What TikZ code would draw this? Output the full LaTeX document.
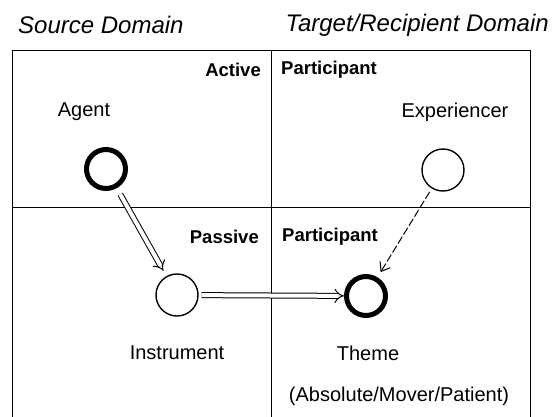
\documentclass[tikz,border=0pt]{standalone}
\usepackage{fontspec}
\setmainfont{Liberation Sans}
\usetikzlibrary{arrows.meta}
\begin{document}
\begin{tikzpicture}[x=1pt,y=-1pt,
  frame/.style={line width=1pt},
  title/.style={font=\fontsize{24}{28}\selectfont\itshape, inner sep=0pt},
  lbl/.style={font=\fontsize{20}{23}\selectfont, inner sep=0pt},
  part/.style={font=\fontsize{18.5}{22}\selectfont\bfseries, inner sep=0pt},
  thin/.style={circle, draw, line width=1.4pt, minimum size=42pt, inner sep=0pt},
  thick/.style={circle, draw, line width=5pt, minimum size=39pt, inner sep=0pt},
  dbl/.style={double, double distance=4pt, line width=1pt, -{Implies[length=8pt]}},
  dsh/.style={line width=1pt, dash pattern=on 8pt off 2.5pt, -{Straight Barb[length=8pt,width=12pt]}}
]
\useasboundingbox (0,0) rectangle (552,416);
% titles
\node[title, anchor=west] (srcd) at (18,25) {Source Domain};
\node[title, anchor=east] (tgtd) at (549,25) {Target/Recipient Domain};
% frame
\coordinate (tl) at (12,50);
\coordinate (tr) at (530,50);
\coordinate (bl) at (12,417);
\coordinate (br) at (530,417);
\coordinate (vt) at (271,50);
\coordinate (vb) at (271,417);
\coordinate (hl) at (12,207);
\coordinate (hr) at (530,207);
\draw[frame] (bl) -- (tl) -- (tr) -- (br);
\draw[frame] (vt) -- (vb);
\draw[frame] (hl) -- (hr);
% participant labels
\node[part, anchor=east] (act) at (261,70) {Active};
\node[part, anchor=west] (p1) at (281,70) {Participant};
\node[part, anchor=east] (pas) at (259,237) {Passive};
\node[part, anchor=west] (p2) at (282,237) {Participant};
% role labels
\node[lbl] (agentl) at (84,112) {Agent};
\node[lbl] (expl) at (455,112) {Experiencer};
\node[lbl] (instl) at (177,353) {Instrument};
\node[lbl] (themel) at (368,353) {Theme};
\node[lbl] (absl) at (399,396) {(Absolute/Mover/Patient)};
% circles
\node[thick] (agent) at (106,169) {};
\node[thin] (exp) at (443,170) {};
\node[thin] (inst) at (177,295) {};
\node[thick] (theme) at (366,296) {};
% connectors
\draw[dbl, shorten <=7pt, shorten >=6pt] (agent) -- (inst);
\draw[dbl, shorten <=3pt, shorten >=0pt] (inst) -- (theme);
\draw[dsh, shorten <=4pt, shorten >=6pt] (exp) -- (theme);
\end{tikzpicture}
\end{document}
